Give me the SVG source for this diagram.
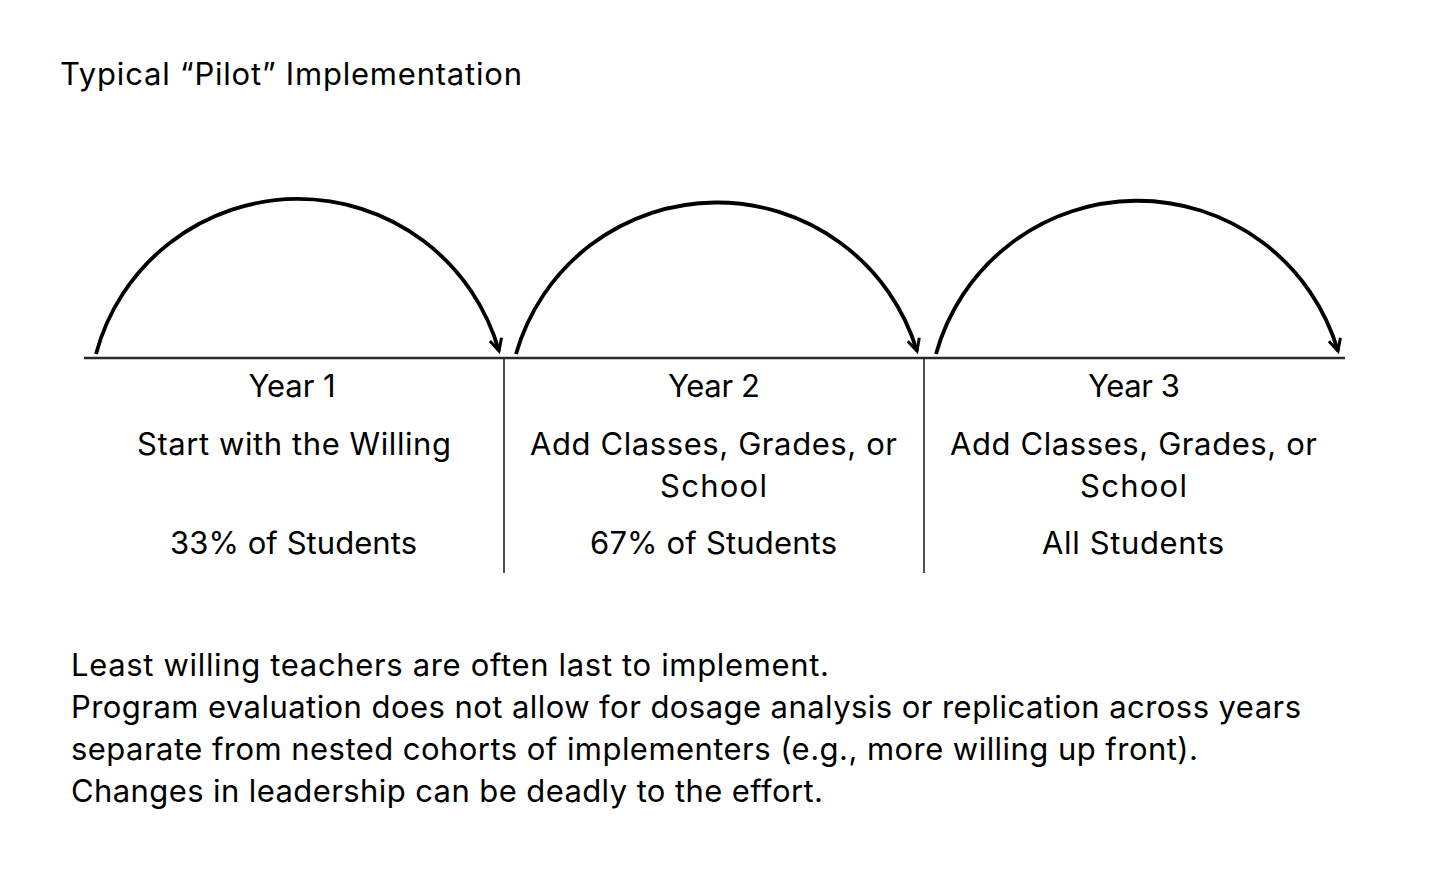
<svg xmlns="http://www.w3.org/2000/svg" width="1430" height="889" viewBox="0 0 1430 889">
  <style>
    text { font-family: Inter, "Liberation Sans", Arial, sans-serif; font-size: 31px; fill: #000; }
    .c { text-anchor: middle; }
    .arc { fill: none; stroke: #000; stroke-width: 3.8; marker-end: url(#arrow); }
    .rule { stroke: #2a2a2a; stroke-width: 2.4; }
    .sep { stroke: #222; stroke-width: 1.6; }
  </style>
  <defs>
    <marker id="arrow" markerUnits="userSpaceOnUse" markerWidth="30" markerHeight="30" viewBox="-15 -15 30 30" refX="0" refY="0" orient="auto">
      <path d="M-12,-6 L0,0 L-12,6" fill="none" stroke="#000" stroke-width="3" stroke-linejoin="miter"/>
    </marker>
  </defs>
  <rect width="1430" height="889" fill="#fff"/>

  <text id="title" x="60" y="85" textLength="462">Typical “Pilot” Implementation</text>

  <g id="connectors">
    <path class="arc" d="M96,354 A209,209 0 0 1 499,351"/>
    <path class="arc" d="M516,354 A209,209 0 0 1 917,351"/>
    <path class="arc" d="M936,354 A209,209 0 0 1 1338,351"/>
    <line class="rule" x1="84" y1="358" x2="1345" y2="358"/>
    <line class="sep" x1="504" y1="358" x2="504" y2="573"/>
    <line class="sep" x1="924" y1="358" x2="924" y2="573"/>
  </g>

  <g id="year1">
    <text class="c" x="292" y="397" textLength="87">Year 1</text>
    <text class="c" x="294" y="455" textLength="314">Start with the Willing</text>
    <text class="c" x="293.5" y="554" textLength="247">33% of Students</text>
  </g>

  <g id="year2">
    <text class="c" x="714" y="397" textLength="92">Year 2</text>
    <text class="c" x="713.5" y="455" textLength="367">Add Classes, Grades, or</text>
    <text class="c" x="713.5" y="497" textLength="107">School</text>
    <text class="c" x="713.5" y="554" textLength="247">67% of Students</text>
  </g>

  <g id="year3">
    <text class="c" x="1134" y="397" textLength="92">Year 3</text>
    <text class="c" x="1133.5" y="455" textLength="367">Add Classes, Grades, or</text>
    <text class="c" x="1133.5" y="497" textLength="107">School</text>
    <text class="c" x="1133" y="554" textLength="182">All Students</text>
  </g>

  <g id="notes">
    <text x="71" y="676" textLength="758">Least willing teachers are often last to implement.</text>
    <text x="71" y="718" textLength="1230">Program evaluation does not allow for dosage analysis or replication across years</text>
    <text x="71" y="760" textLength="1127">separate from nested cohorts of implementers (e.g., more willing up front).</text>
    <text x="71" y="802" textLength="752">Changes in leadership can be deadly to the effort.</text>
  </g>
</svg>
